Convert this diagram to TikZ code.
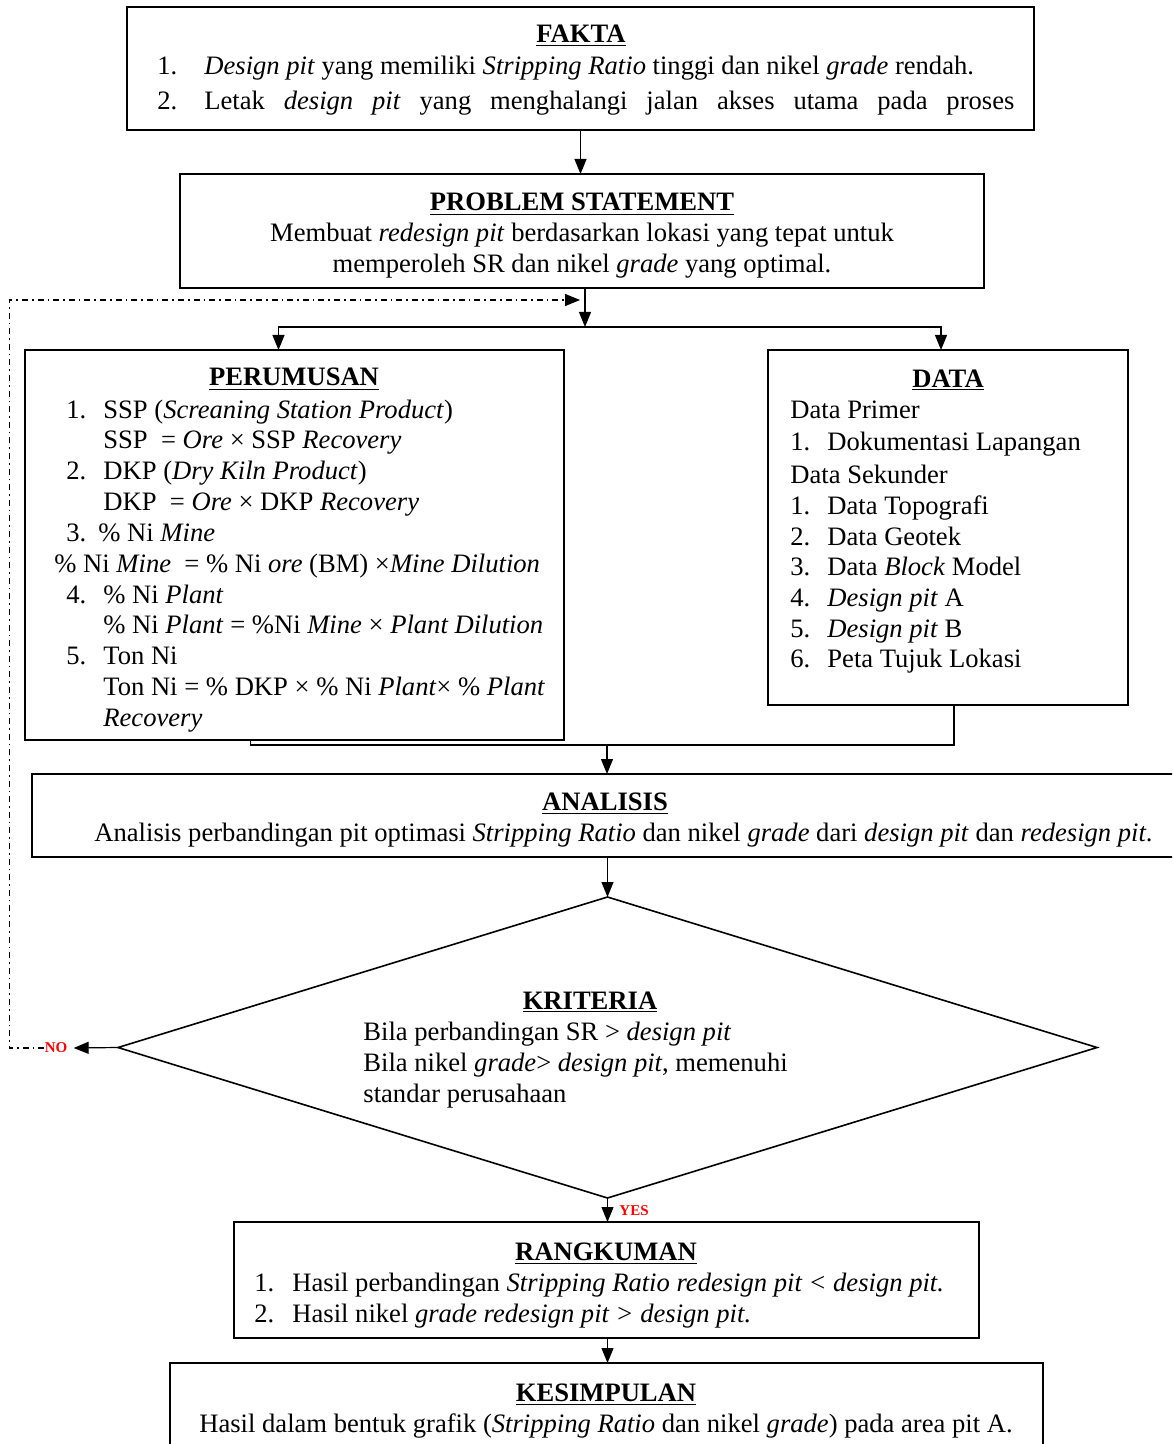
\documentclass[tikz,border=0pt]{standalone}
\usepackage{fontspec}
\setmainfont{Liberation Serif}
\usetikzlibrary{arrows.meta,shapes.geometric}
\begin{document}
\begin{tikzpicture}[x=0.5pt,y=-0.5pt,
  font=\fontsize{13.3}{15.5}\selectfont,
  box/.style={draw,line width=0.8pt,inner sep=0pt,outer sep=0pt},
  txt/.style={inner sep=0pt,anchor=base west,yshift=-1pt},
  mid/.style={inner sep=0pt,anchor=base,yshift=-1pt},
  head/.style={mid,font=\fontsize{13.3}{15.5}\selectfont\bfseries},
  arr/.style={line width=0.6pt,-{Triangle[length=7.5pt,width=6pt]}},
  dashdot/.style={dash pattern=on 3pt off 2pt on 0.8pt off 2pt},
  tag/.style={inner sep=0pt,text=red,font=\fontsize{7.5}{8}\selectfont\bfseries}]
\useasboundingbox (0,0) rectangle (1172,1444);
\clip (0,0) rectangle (1172,1444);

\node[box,minimum width=453.5pt,minimum height=61.5pt] (fakta) at (580.5,68.5) {};
\node[box,minimum width=402pt,minimum height=57pt] (ps) at (582,231) {};
\node[box,minimum width=269.5pt,minimum height=195pt] (rumus) at (294.5,545) {};
\node[box,minimum width=180pt,minimum height=177.5pt] (data) at (948,527.5) {};
\node[box,minimum width=574pt,minimum height=41.5pt] (analisis) at (606,815.5) {};
\node[box,diamond,minimum width=489.5pt,minimum height=150.5pt] (kriteria) at (607.5,1047.5) {};
\node[box,minimum width=372.5pt,minimum height=58pt] (rangkum) at (606.5,1280) {};
\node[box,minimum width=436.5pt,minimum height=58.5pt] (simpul) at (606.5,1421.5) {};

\node[head] (faktaT) at (581,41) {\underline{FAKTA}};
\node[txt] (f1n) at (157,73) {1.};
\node[txt] (f1) at (204,73) {\textit{Design pit} yang memiliki \textit{Stripping Ratio} tinggi dan nikel \textit{grade} rendah.};
\node[txt] (f2n) at (157,108) {2.};
\node[txt] (f2) at (204,108) {\makebox[405pt][s]{Letak \textit{design pit} yang menghalangi jalan akses utama pada proses}};

\node[head] (psT) at (582,209) {\underline{PROBLEM STATEMENT}};
\node[mid] (ps1) at (582,240) {Membuat \textit{redesign pit} berdasarkan lokasi yang tepat untuk};
\node[mid] (ps2) at (582,271) {memperoleh SR dan nikel \textit{grade} yang optimal.};

\node[head] (rumusT) at (294,384) {\underline{PERUMUSAN}};
\foreach \n/\y in {1/416,2/477,3/539,4/601,5/662}
  \node[txt] (rn\n) at (66,\y) {\n.};
\node[txt] (r1) at (103,416) {SSP (\textit{Screaning Station Product})};
\node[txt] (r2) at (103,446) {SSP \ = \textit{Ore} × SSP \textit{Recovery}};
\node[txt] (r3) at (103,477) {DKP (\textit{Dry Kiln Product})};
\node[txt] (r4) at (103,508) {DKP \ = \textit{Ore} × DKP \textit{Recovery}};
\node[txt] (r5) at (98,539) {\% Ni \textit{Mine}};
\node[txt] (r6) at (54,570) {\% Ni \textit{Mine} \ = \% Ni \textit{ore} (BM) ×\textit{Mine Dilution}};
\node[txt] (r7) at (103,601) {\% Ni \textit{Plant}};
\node[txt] (r8) at (103,631) {\% Ni \textit{Plant} = \%Ni \textit{Mine} × \textit{Plant Dilution}};
\node[txt] (r9) at (103,662) {Ton Ni};
\node[txt] (r10) at (103,693) {Ton Ni = \% DKP × \% Ni \textit{Plant}× \% \textit{Plant}};
\node[txt] (r11) at (103,724) {\textit{Recovery}};

\node[head] (dataT) at (948,385) {\underline{DATA}};
\node[txt] (dp) at (790,416) {Data Primer};
\node[txt] (dpn) at (790,448) {1.};
\node[txt] (dp1) at (827,448) {Dokumentasi Lapangan};
\node[txt] (ds) at (790,481) {Data Sekunder};
\foreach \t [count=\i] in {Data Topografi, Data Geotek, Data \textit{Block} Model,
    \textit{Design pit} A, \textit{Design pit} B, Peta Tujuk Lokasi} {
  \node[txt] (dsn\i) at (790,{482+30.6*\i}) {\i.};
  \node[txt] (ds\i) at (827,{482+30.6*\i}) {\t};
}

\node[head] (analisisT) at (605,808) {\underline{ANALISIS}};
\node[txt] (an1) at (94,839) {Analisis perbandingan pit optimasi \textit{Stripping Ratio} dan nikel \textit{grade} dari \textit{design pit} dan \textit{redesign pit}.};

\node[head] (kriteriaT) at (590,1007) {\underline{KRITERIA}};
\node[txt] (k1) at (363,1038) {Bila perbandingan SR > \textit{design pit}};
\node[txt] (k2) at (363,1069) {Bila nikel \textit{grade}> \textit{design pit}, memenuhi};
\node[txt] (k3) at (363,1100) {standar perusahaan};

\node[head] (rangkumT) at (606,1258) {\underline{RANGKUMAN}};
\node[txt] (g1n) at (254,1289) {1.};
\node[txt] (g1) at (292,1289) {Hasil perbandingan \textit{Stripping Ratio redesign pit < design pit.}};
\node[txt] (g2n) at (254,1320) {2.};
\node[txt] (g2) at (292,1320) {Hasil nikel \textit{grade redesign pit > design pit.}};

\node[head] (simpulT) at (606,1399) {\underline{KESIMPULAN}};
\node[mid] (s1) at (606,1430) {Hasil dalam bentuk grafik (\textit{Stripping Ratio} dan nikel \textit{grade}) pada area pit A.};

\coordinate (split) at (585,327);
\coordinate (back) at (580,300);
\coordinate (merge) at (607,745);
\node[tag] (no) at (56,1048) {NO};
\node[tag] (yes) at (634,1211) {YES};

\draw[arr] (fakta.south) -- (fakta.south |- ps.north);
\draw[arr] (ps.south -| split) -- (split);
\draw[arr] (split) -| ([xshift=-8pt]rumus.north);
\draw[arr] (split) -| ([xshift=-3.5pt]data.north);
\draw[line width=0.6pt] ([xshift=-22pt]rumus.south) |- (merge) -| ([xshift=3pt]data.south);
\draw[arr] (merge) -- (merge |- analisis.north);
\draw[arr] (kriteria.north |- analisis.south) -- (kriteria.north);
\draw[arr] (kriteria.west) -- ([xshift=3pt]no.east);
\draw[arr,dashdot] (no.west) -- ++(-35,0) |- (back);
\draw[arr] (kriteria.south) -- (kriteria.south |- rangkum.north);
\draw[arr] (kriteria.south |- rangkum.south) -- (kriteria.south |- simpul.north);
\end{tikzpicture}
\end{document}
